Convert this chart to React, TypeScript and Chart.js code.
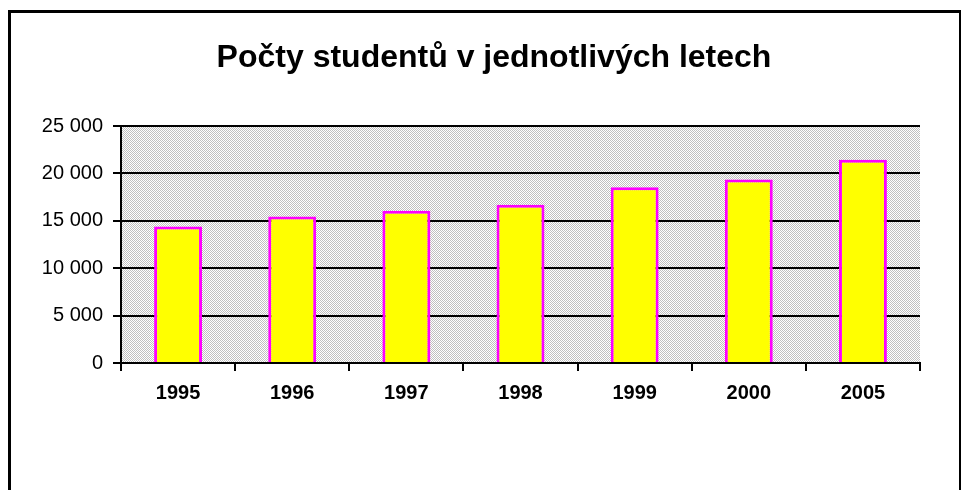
import React, { useEffect, useRef } from "react";
import { Chart, registerables } from "chart.js";

Chart.register(...registerables);

const title = "Počty studentů v jednotlivých letech";
const years = ["1995", "1996", "1997", "1998", "1999", "2000", "2005"];
const students = [14400, 15450, 16050, 16700, 18550, 19350, 21450];
const yMin = 0;
const yMax = 25000;
const yStep = 5000;

const fmt = (v: number) => String(v).replace(/\B(?=(\d{3})+(?!\d))/g, " ");

const FONT = "Arial, 'Liberation Sans', sans-serif";

const patternBg = {
  id: "patternBg",
  beforeDraw(chart: any) {
    const { ctx, chartArea } = chart;
    if (!chartArea) return;
    const off = document.createElement("canvas");
    off.width = 2;
    off.height = 2;
    const o = off.getContext("2d")!;
    o.fillStyle = "#ffffff";
    o.fillRect(0, 0, 2, 2);
    o.fillStyle = "#c0c0c0";
    o.fillRect(0, 0, 1, 1);
    o.fillRect(1, 1, 1, 1);
    const pat = ctx.createPattern(off, "repeat");
    ctx.save();
    ctx.fillStyle = pat;
    ctx.fillRect(
      chartArea.left,
      chartArea.top,
      chartArea.right - chartArea.left,
      chartArea.bottom - chartArea.top
    );
    ctx.restore();
  },
};

const titleText = {
  id: "titleText",
  afterDraw(chart: any) {
    const { ctx } = chart;
    ctx.save();
    ctx.fillStyle = "#000000";
    ctx.font = `bold 32px ${FONT}`;
    ctx.textAlign = "center";
    ctx.textBaseline = "alphabetic";
    ctx.fillText(title, 494, 67);
    ctx.restore();
  },
};

export default function App() {
  const ref = useRef<HTMLCanvasElement | null>(null);

  useEffect(() => {
    if (!ref.current) return;
    const chart = new Chart(ref.current, {
      type: "bar",
      data: {
        labels: years,
        datasets: [
          {
            data: students,
            backgroundColor: "#ffff00",
            borderColor: "#ff00ff",
            borderWidth: 3,
            borderSkipped: "bottom",
            barPercentage: 0.42,
            categoryPercentage: 1,
          },
        ],
      },
      options: {
        animation: false,
        responsive: false,
        events: [],
        layout: { padding: { left: 0, right: 41, top: 126, bottom: 0 } },
        plugins: {
          legend: { display: false },
          tooltip: { enabled: false },
          title: { display: false },
        },
        scales: {
          x: {
            offset: true,
            afterFit: (s: any) => {
              s.height = 127;
            },
            grid: {
              display: true,
              offset: true,
              drawOnChartArea: false,
              drawTicks: true,
              tickLength: 8,
              color: "#000000",
              lineWidth: 2,
            },
            border: { display: true, color: "#000000", width: 2 },
            ticks: {
              color: "#000000",
              padding: 10,
              maxRotation: 0,
              font: { family: FONT, size: 20, weight: "bold" },
            },
          },
          y: {
            min: yMin,
            max: yMax,
            afterFit: (s: any) => {
              s.width = 121;
            },
            grid: {
              display: true,
              drawTicks: true,
              tickLength: 8,
              color: "#000000",
              lineWidth: 2,
            },
            border: { display: true, color: "#000000", width: 2 },
            ticks: {
              stepSize: yStep,
              color: "#000000",
              padding: 10,
              font: { family: FONT, size: 20 },
              callback: (v: any) => fmt(Number(v)),
            },
          },
        },
      },
      plugins: [patternBg, titleText],
    });
    return () => chart.destroy();
  }, []);

  return (
    <>
      <div
        style={{
          position: "absolute",
          left: 8,
          top: 10,
          width: 953,
          height: 480,
          boxSizing: "border-box",
          borderTop: "3px solid #000",
          borderLeft: "3px solid #000",
          borderRight: "2px solid #000",
        }}
      />
      <canvas
        ref={ref}
        width={961}
        height={490}
        style={{ position: "absolute", left: 0, top: 0, width: 961, height: 490 }}
      />
    </>
  );
}
